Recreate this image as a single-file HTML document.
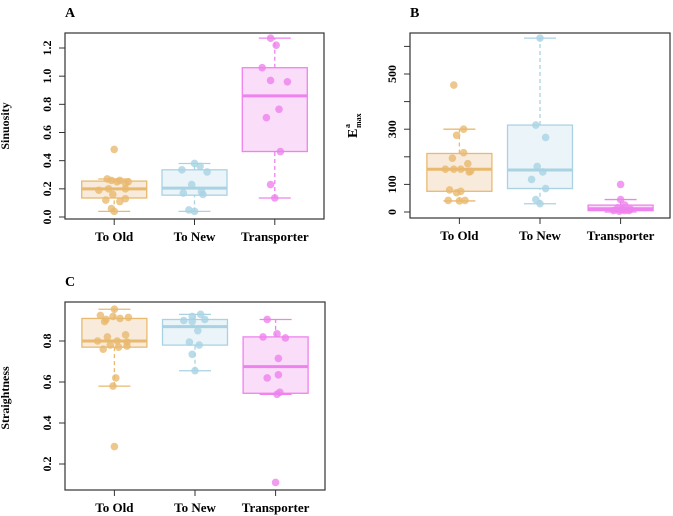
<!DOCTYPE html>
<html><head><meta charset="utf-8"><style>
body{margin:0;background:#fff;}
svg{display:block;font-family:"Liberation Serif",serif;}
</style></head><body>
<svg id="fig" width="673" height="516"></svg>
<script>
const categories=["To Old","To New","Transporter"];
const colors=["#E9B96E","#A9D3E3","#EE82EE"];
const fills=["#F8EBDC","#EAF4F9","#FADDF8"];
// Panel A: sinuosity
const aStats=[[0.04,0.135,0.2,0.255,0.27],[0.04,0.155,0.205,0.335,0.38],[0.135,0.465,0.86,1.06,1.27]];
const aPoints=[[0.48,0.27,0.26,0.26,0.25,0.25,0.24,0.2,0.2,0.19,0.16,0.13,0.12,0.11,0.06,0.04],
 [0.38,0.36,0.335,0.32,0.23,0.18,0.17,0.16,0.05,0.04],
 [1.27,1.22,1.06,0.97,0.96,0.765,0.705,0.465,0.23,0.135]];
const aJitter=[[0,-0.25,-0.1,0.2,0.5,0.1,0.4,-0.2,0.4,-0.55,-0.05,0.4,-0.3,0.2,-0.1,0],
 [0,0.2,-0.45,0.45,-0.1,0.25,-0.4,0.3,-0.2,0],
 [-0.15,0.05,-0.45,-0.15,0.45,0.15,-0.3,0.2,-0.15,0]];
const aTicks=[0,0.2,0.4,0.6,0.8,1.0,1.2];
const aTickLabels=["0.0","0.2","0.4","0.6","0.8","1.0","1.2"];
// Panel B: E max
const bStats=[[40,75,155,212,300],[30,85,152,315,630],[0,5,12,25,45]];
const bPoints=[[460,300,278,215,195,175,155,155,155,148,145,80,75,70,42,40,42],
 [630,315,270,165,145,118,85,45,30],
 [100,45,25,15,10,8,5,5,5,3]];
const bJitter=[[-0.2,0.15,-0.1,0.15,-0.25,0.3,-0.5,-0.2,0.05,0.4,0.35,-0.35,0.05,-0.1,-0.4,0,0.2],
 [0,-0.15,0.2,-0.1,0.1,-0.3,0.2,-0.15,0],
 [0,0,0.15,-0.1,0.35,0.05,-0.25,0.15,0.3,-0.05]];
const bTicks=[0,100,200,300,400,500,600];
const bTickLabels=["0","100","","300","","500",""];
// Panel C: straightness
const cStats=[[0.58,0.77,0.80,0.91,0.955],[0.655,0.78,0.87,0.905,0.93],[0.54,0.545,0.675,0.82,0.905]];
const cPoints=[[0.955,0.925,0.92,0.915,0.91,0.905,0.895,0.83,0.82,0.80,0.80,0.795,0.78,0.775,0.77,0.76,0.62,0.58,0.285],
 [0.93,0.92,0.905,0.90,0.895,0.85,0.795,0.78,0.735,0.655],
 [0.905,0.835,0.82,0.815,0.715,0.635,0.62,0.55,0.54,0.11]];
const cJitter=[[0,-0.5,-0.05,0.5,0.2,-0.3,-0.35,0.4,-0.25,0.1,-0.6,0.45,-0.15,0.45,0.15,-0.4,0.05,-0.05,0],
 [0.2,-0.1,0.35,-0.4,-0.1,0.1,-0.2,0.15,-0.1,0],
 [-0.3,0.05,-0.45,0.35,0.1,0.1,-0.3,0.15,0.05,0]];
const cTicks=[0.2,0.4,0.6,0.8];
const cTickLabels=["0.2","0.4","0.6","0.8"];

const NS="http://www.w3.org/2000/svg";
const svg=document.getElementById('fig');
function mk(tag,attrs,parent,text){const e=document.createElementNS(NS,tag);for(const k in attrs)e.setAttribute(k,attrs[k]);if(text!==undefined)e.textContent=text;(parent||svg).appendChild(e);return e;}

function panel(id,letter,box,ymin,ymax,yTop,yBot,stats,points,jitter,ticks,tickLabels){
  const g=mk('g',{});
  
  
  const ys=v=>yBot-(v-ymin)/(ymax-ymin)*(yBot-yTop);
  const xs=i=>box.x1+(box.x2-box.x1)*(0.19+0.31*i);
  const lab=mk('text',{x:box.x1,y:box.y1-16,'font-size':14,'font-weight':'bold'},g,letter);
  
  
  categories.forEach((c,i)=>{
    const s=stats[i],cx=xs(i),hw=32.5,col=colors[i];
    const bg=mk('g',{},g);
    
    
    mk('line',{x1:cx,x2:cx,y1:ys(s[0]),y2:ys(s[1]),stroke:col,'stroke-width':1.3,'stroke-dasharray':'4,3'},bg);
    mk('line',{x1:cx,x2:cx,y1:ys(s[3]),y2:ys(s[4]),stroke:col,'stroke-width':1.3,'stroke-dasharray':'4,3'},bg);
    mk('line',{x1:cx-16,x2:cx+16,y1:ys(s[0]),y2:ys(s[0]),stroke:col,'stroke-width':1.3},bg);
    mk('line',{x1:cx-16,x2:cx+16,y1:ys(s[4]),y2:ys(s[4]),stroke:col,'stroke-width':1.3},bg);
    mk('rect',{x:cx-hw,y:ys(s[3]),width:2*hw,height:ys(s[1])-ys(s[3]),fill:fills[i],stroke:col,'stroke-width':1.3},bg);
    mk('line',{x1:cx-hw,x2:cx+hw,y1:ys(s[2]),y2:ys(s[2]),stroke:col,'stroke-width':3},bg);
    points[i].forEach((v,j)=>{
      const p=mk('circle',{cx:cx+jitter[i][j]*28,cy:ys(v),r:3.8,fill:col,'fill-opacity':0.8},bg);
      
      
    });
    mk('line',{x1:cx,x2:cx,y1:box.y2,y2:box.y2+6,stroke:'#333'},g);
    const t=mk('text',{x:cx,y:box.y2+22,'font-size':13,'font-weight':'bold','text-anchor':'middle'},g,c);
    
    
  });
  const fr=mk('rect',{x:box.x1,y:box.y1,width:box.x2-box.x1,height:box.y2-box.y1,fill:'none',stroke:'#333','stroke-width':1.2},g);
  
  
  ticks.forEach((v,k)=>{
    const y=ys(v);
    mk('line',{x1:box.x1-6,x2:box.x1,y1:y,y2:y,stroke:'#333'},g);
    if(tickLabels[k]){
      const t=mk('text',{x:0,y:0,'font-size':12,'font-weight':'bold','text-anchor':'middle',transform:`translate(${box.x1-14},${y}) rotate(-90)`},g,tickLabels[k]);
      
      
    }
  });
  return {g,ys};
}
const A=panel('a','A',{x1:65,y1:33,x2:324,y2:219},0,1.2,48,217,aStats,aPoints,aJitter,aTicks,aTickLabels);
let t=mk('text',{'font-size':12,'font-weight':'bold','text-anchor':'middle',transform:'translate(9,126) rotate(-90)'},A.g,'Sinuosity');

const B=panel('b','B',{x1:410,y1:33,x2:670,y2:218},0,500,74,212,bStats,bPoints,bJitter,bTicks,bTickLabels);
const bt=mk('g',{transform:'translate(357,126) rotate(-90)'},B.g);

mk('text',{x:-12,y:0,'font-size':14,'font-weight':'bold'},bt,'E');
mk('text',{x:-2,y:-7,'font-size':8,'font-weight':'bold'},bt,'a');
mk('text',{x:-2,y:4,'font-size':8,'font-weight':'bold'},bt,'max');
const C=panel('c','C',{x1:65,y1:302,x2:325,y2:490},0.2,0.8,341,464,cStats,cPoints,cJitter,cTicks,cTickLabels);
t=mk('text',{'font-size':12,'font-weight':'bold','text-anchor':'middle',transform:'translate(9,398) rotate(-90)'},C.g,'Straightness');

</script>
</body></html>
